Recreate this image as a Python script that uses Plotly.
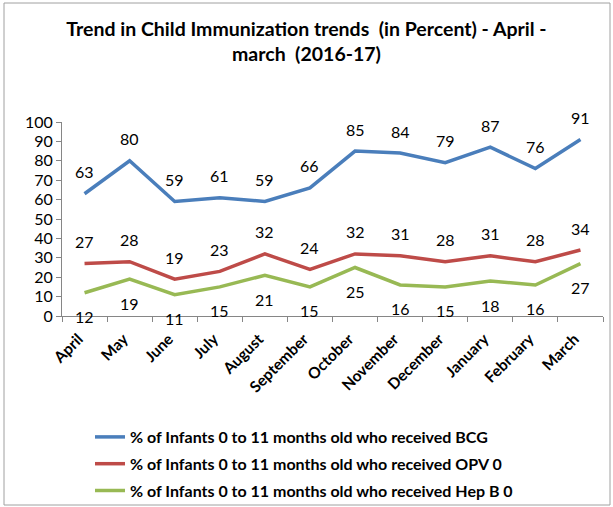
import plotly.graph_objects as go

months = ["April", "May", "June", "July", "August", "September", "October",
          "November", "December", "January", "February", "March"]
bcg = [63, 80, 59, 61, 59, 66, 85, 84, 79, 87, 76, 91]
opv = [27, 28, 19, 23, 32, 24, 32, 31, 28, 31, 28, 34]
hepb = [12, 19, 11, 15, 21, 15, 25, 16, 15, 18, 16, 27]

names = ["% of Infants 0 to 11 months old who received BCG",
         "% of Infants 0 to 11 months old who received OPV 0",
         "% of Infants 0 to 11 months old who received Hep B 0"]
colors = ["#4A7EBB", "#BE4B48", "#98B954"]
series = [bcg, opv, hepb]
shifts = [22, 22, -24]

FONT = "Lato"
fig = go.Figure()
for i, (vals, nm, c) in enumerate(zip(series, names, colors)):
    fig.add_trace(go.Scatter(x=months, y=vals, mode="lines", name=nm,
                             line=dict(color=c, width=3.5),
                             legendgroup=str(i)))
    for m, v in zip(months, vals):
        fig.add_annotation(x=m, y=v, text=str(v), showarrow=False,
                           yshift=shifts[i], font=dict(family=FONT, size=16, color="#000"))

W, H = 613, 507
L, R, T, B = 62, 10, 122, 191
pw, ph = W - L - R, H - T - B
fig.add_shape(type="rect", xref="paper", yref="paper",
              x0=(4 - L) / pw, x1=(610 - L) / pw,
              y0=(H - B - 505) / ph, y1=(H - B - 3) / ph,
              line=dict(color="#A0A0A0", width=1))

fig.update_layout(
    width=W, height=H,
    margin=dict(l=L, r=R, t=T, b=B, autoexpand=False),
    paper_bgcolor="white", plot_bgcolor="white",
    font=dict(family=FONT, color="#000"),
    title=dict(text="<b>Trend in Child Immunization trends  (in Percent) - April -<br>march  (2016-17)</b>",
               x=0.5, xref="container", xanchor="center", y=1 - 36 / H, yanchor="middle",
               font=dict(family=FONT, size=19.5)),
    xaxis=dict(range=[-0.5, 11.5], automargin=False, showgrid=False, showline=True,
               linecolor="#868686", linewidth=1,
               ticks="outside", tickson="boundaries", ticklen=5, tickcolor="#868686",
               tickangle=-45, ticklabelshift=-6, ticklabelstandoff=7,
               tickfont=dict(family=FONT, size=15.5, weight="bold")),
    yaxis=dict(range=[0, 100], dtick=10, automargin=False, showgrid=False, showline=True,
               linecolor="#868686", linewidth=1, ticks="outside", ticklen=5,
               tickcolor="#868686", tickfont=dict(family=FONT, size=16), zeroline=False),
    legend=dict(xref="container", yref="container", x=90 / W, xanchor="left",
                y=1 - 420 / H, yanchor="top",
                traceorder="grouped", tracegroupgap=3,
                font=dict(family=FONT, size=16, color="#000", weight="bold"),
                bgcolor="rgba(0,0,0,0)"),
    showlegend=True,
)
fig.write_html("out.html", config={"displayModeBar": False})

with open("out.html", "r", encoding="utf-8") as f:
    html = f.read()
html = html.replace("<body>", '<body style="margin:0;padding:0;overflow:hidden">', 1)
with open("out.html", "w", encoding="utf-8") as f:
    f.write(html)
